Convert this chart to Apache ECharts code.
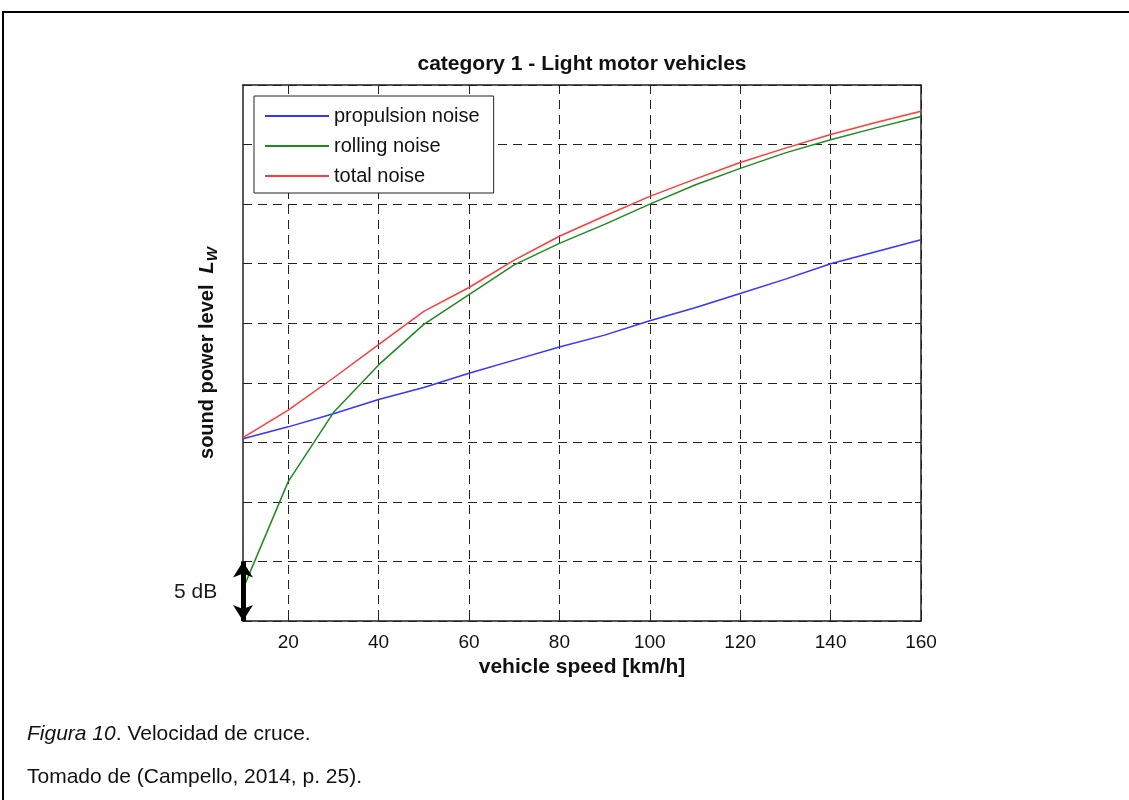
<!DOCTYPE html>
<html>
<head>
<meta charset="utf-8">
<script src="https://cdn.jsdelivr.net/npm/echarts@6/dist/echarts.min.js"></script>
<style>
html,body{margin:0;padding:0;background:#fff;}
#chart{width:1129px;height:800px;}
</style>
</head>
<body>
<div id="chart"></div>
<script>
// ---- data ----
const speeds = [10, 20, 30, 40, 50, 60, 70, 80, 90, 100, 110, 120, 130, 140, 150, 160];
const propulsionNoise = [15.3, 16.3, 17.4, 18.6, 19.6, 20.8, 21.9, 23.0, 24.0, 25.2, 26.3, 27.5, 28.7, 30.0, 31.0, 32.0];
const rollingNoise = [2.7, 11.7, 17.5, 21.5, 24.9, 27.4, 29.9, 31.7, 33.3, 35.0, 36.6, 38.0, 39.3, 40.4, 41.4, 42.35];
const totalNoise = [15.4, 17.7, 20.4, 23.2, 26.0, 28.0, 30.3, 32.3, 34.0, 35.65, 37.1, 38.5, 39.7, 40.85, 41.85, 42.8];
const xTickValues = [20, 40, 60, 80, 100, 120, 140, 160];
const seriesNames = ['propulsion noise', 'rolling noise', 'total noise'];
const scaleBar = [[10, 0], [10, 5]]; // "5 dB" arrow, data coords
const titleText = 'category 1 - Light motor vehicles';
const xName = 'vehicle speed [km/h]';
const captionLine1 = 'Velocidad de cruce.';
const captionLine2 = 'Tomado de (Campello, 2014, p. 25).';

const FONT = 'Liberation Sans, Arial, sans-serif';
const pair = (xs, ys) => xs.map((x, i) => [x, ys[i]]);

const chart = echarts.init(document.getElementById('chart'), null, {renderer: 'canvas'});
const gridDash = {color: '#222', width: 1, type: [9, 6]};

const option = {
  backgroundColor: '#fff',
  animation: false,
  textStyle: {fontFamily: FONT},
  grid: {left: 243, top: 85, width: 678, height: 536, containLabel: false},
  legend: {
    orient: 'vertical',
    left: 254, top: 96,
    padding: [10, 14, 7, 11],
    itemGap: 10,
    itemWidth: 64, itemHeight: 2,
    itemTextGap: 6,
    icon: 'rect',
    backgroundColor: '#fff',
    borderColor: '#222', borderWidth: 1,
    textStyle: {fontFamily: FONT, fontSize: 20, color: '#111'},
    data: seriesNames
  },
  xAxis: [
    {
      type: 'value', position: 'bottom', min: 10, max: 160,
      name: xName, nameLocation: 'middle', nameGap: 35,
      nameTextStyle: {fontFamily: FONT, fontSize: 21, fontWeight: 'bold', color: '#111'},
      axisLine: {show: true, onZero: false, lineStyle: {color: '#222', width: 1.5}},
      axisTick: {show: true, inside: true, length: 6, customValues: xTickValues, lineStyle: {color: '#222'}},
      axisLabel: {show: true, customValues: xTickValues, margin: 12, fontFamily: FONT, fontSize: 19, color: '#111'},
      splitLine: {show: true, lineStyle: gridDash}
    },
    {
      type: 'value', position: 'top', min: 10, max: 160,
      name: titleText, nameLocation: 'middle', nameGap: 10,
      nameTextStyle: {fontFamily: FONT, fontSize: 21, fontWeight: 'bold', color: '#111'},
      axisLine: {show: true, onZero: false, lineStyle: {color: '#222', width: 1.5}},
      axisTick: {show: true, inside: true, length: 6, customValues: xTickValues, lineStyle: {color: '#222'}},
      axisLabel: {show: false},
      splitLine: {show: false}
    }
  ],
  yAxis: [
    {
      type: 'value', position: 'left', min: 0, max: 45, interval: 5,
      name: 'sound power level  {L|L}{W|W}', nameLocation: 'middle', nameGap: 23, nameRotate: 90,
      nameTextStyle: {
        fontFamily: FONT, fontSize: 20, fontWeight: 'bold', color: '#111',
        rich: {
          L: {fontFamily: FONT, fontSize: 20, fontWeight: 'bold', fontStyle: 'italic', color: '#111', verticalAlign: 'middle', lineHeight: 26},
          W: {fontFamily: FONT, fontSize: 15, fontWeight: 'bold', fontStyle: 'italic', color: '#111', verticalAlign: 'bottom', lineHeight: 26}
        }
      },
      axisLine: {show: true, onZero: false, lineStyle: {color: '#222', width: 1.5}},
      axisTick: {show: true, inside: true, length: 6, lineStyle: {color: '#222'}},
      axisLabel: {show: false},
      splitLine: {show: true, lineStyle: gridDash}
    },
    {
      type: 'value', position: 'right', min: 0, max: 45, interval: 5,
      axisLine: {show: true, onZero: false, lineStyle: {color: '#222', width: 1.5}},
      axisTick: {show: true, inside: true, length: 6, lineStyle: {color: '#222'}},
      axisLabel: {show: false},
      splitLine: {show: false}
    }
  ],
  series: [
    {
      name: seriesNames[0], type: 'line', symbol: 'none', xAxisIndex: 0, yAxisIndex: 0,
      color: '#3535ff',
      lineStyle: {width: 1.5, color: '#3535ff'},
      data: pair(speeds, propulsionNoise),
      z: 3
    },
    {
      name: seriesNames[1], type: 'line', symbol: 'none', xAxisIndex: 0, yAxisIndex: 0,
      color: '#1f8a1f',
      lineStyle: {width: 1.5, color: '#1f8a1f'},
      data: pair(speeds, rollingNoise),
      z: 3
    },
    {
      name: seriesNames[2], type: 'line', symbol: 'none', xAxisIndex: 0, yAxisIndex: 0,
      color: '#ff3b3b',
      lineStyle: {width: 1.5, color: '#ff3b3b'},
      data: pair(speeds, totalNoise),
      z: 3,
      markLine: {
        silent: true,
        symbol: ['arrow', 'arrow'],
        symbolSize: [15, 16],
        lineStyle: {color: '#000', width: 5, type: 'solid'},
        label: {show: false},
        data: [[{coord: scaleBar[0]}, {coord: scaleBar[1]}]],
        z: 5
      }
    }
  ],
  graphic: [
    {type: 'rect', shape: {x: 3, y: 12, width: 1300, height: 1000}, style: {fill: null, stroke: '#000', lineWidth: 2}, silent: true, z: -1},
    {type: 'text', left: 174, top: 582, style: {text: '5 dB', fontFamily: FONT, fontSize: 21, fill: '#1a1a1a'}},
    {type: 'text', left: 27, top: 724, style: {
      text: '{i|Figura 10}. ' + captionLine1,
      fontFamily: FONT, fontSize: 21, fill: '#111',
      rich: {i: {fontFamily: FONT, fontSize: 21, fontStyle: 'italic', fill: '#111'}}
    }},
    {type: 'text', left: 27, top: 767, style: {text: captionLine2, fontFamily: FONT, fontSize: 21, fill: '#111'}}
  ]
};
chart.setOption(option);
</script>
</body>
</html>
